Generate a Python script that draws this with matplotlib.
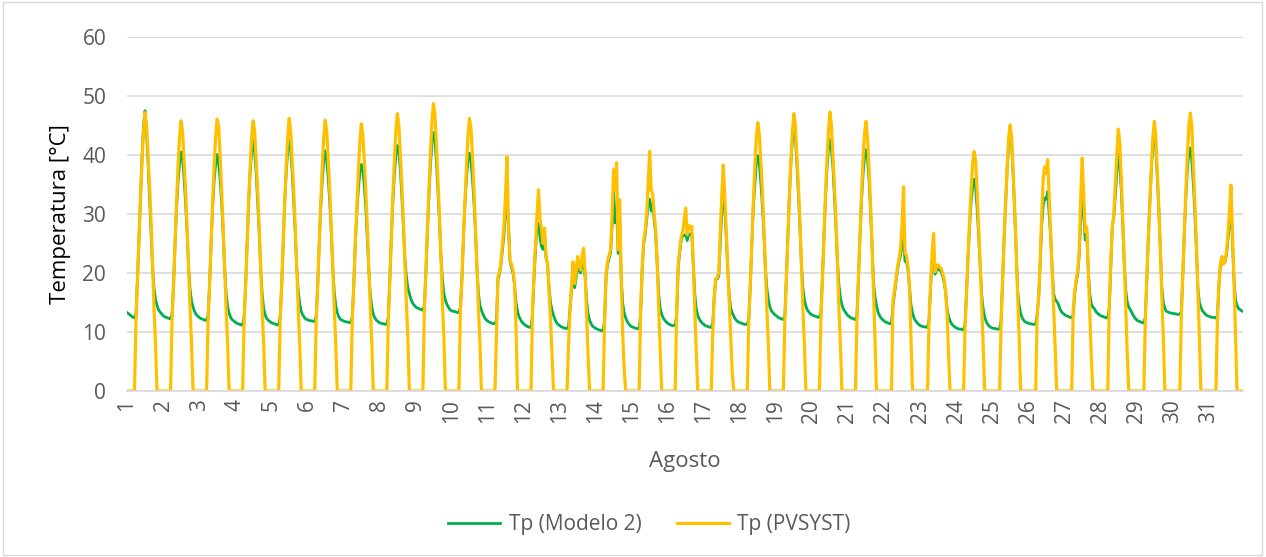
import numpy as np
import matplotlib.pyplot as plt
from matplotlib.patches import Rectangle

plt.rcParams['font.family'] = ['Open Sans', 'DejaVu Sans']

# hourly values, one row per day of August (hour 0..23)
tp_pvsyst = [
    [0,0,0,0,0,0,12,19,26,33,39,44,47.2,45,40,35,29,22,14,8,0,0,0,0],
    [0,0,0,0,0,0,12,18,25,32,38,43,45.8,44,39,34,28,21,14,8,0,0,0,0],
    [0,0,0,0,0,0,12,18,25,32,38,43,46.1,45,40,34,28,21,14,8,0,0,0,0],
    [0,0,0,0,0,0,12,18,25,32,38,43,45.8,44,39,34,28,21,14,8,0,0,0,0],
    [0,0,0,0,0,0,12,18,25,32,38,43,46.2,44,39,34,28,21,14,8,0,0,0,0],
    [0,0,0,0,0,0,12,18,25,32,38,43,45.9,44,39,34,28,21,14,8,0,0,0,0],
    [0,0,0,0,0,0,12,18,25,31,37,42,45.3,43.5,39,34,28,21,14,8,0,0,0,0],
    [0,0,0,0,0,0,12,19,26,33,39,44,47,45,40,35,29,22,15,9,0,0,0,0],
    [0,0,0,0,0,0,14,20,27,34,40,45.5,48.7,47,42,36,30,23,15,9,0,0,0,0],
    [0,0,0,0,0,0,14,19,26,32,38,43,46.2,44.5,40,34,28,21,14,8,0,0,0,0],
    [0,0,0,0,0,0,10,19.5,20,22,25,28,33,39.7,28,22,21.5,20.5,18.5,11,0,0,0,0],
    [0,0,0,0,0,0,14,20,25,30,34.1,29,27.5,25,27.6,23,21.5,17,12,6,0,0,0,0],
    [0,0,0,0,0,0,8,14,18,21.9,18.2,20,22.8,21.5,20.5,23,24.2,20,13,6,0,0,0,0],
    [0,0,0,0,0,0,12,20,22,23,24,30,37.5,34,38.7,24,32.4,19.4,10,4,0,0,0,0],
    [0,0,0,0,0,0,14,21,25.5,27,30,35,40.6,34,33.4,30,27.3,22,14,7,0,0,0,0],
    [0,0,0,0,0,0,14,21.6,24,26.1,27,29,31,26.5,28.1,27.5,27.9,22,14,7,0,0,0,0],
    [0,0,0,0,0,0,10,16,19,19.3,20,27,33,38.3,33,27,21,15,9,3,0,0,0,0],
    [0,0,0,0,0,0,12,18,25,32,38,43,45.5,43.5,39,34,28,21,14,8,0,0,0,0],
    [0,0,0,0,0,0,12,19,26,33,39,44,47,45,40,35,29,22,14,8,0,0,0,0],
    [0,0,0,0,0,0,12,19,26,33,39,44,47.3,45,40,35,29,22,14,8,0,0,0,0],
    [0,0,0,0,0,0,12,19,26,33,39,43.5,45.7,43,38,32,25,17,9,0,0,0,0,0],
    [0,0,0,0,0,0,15.4,17,19,21,22.5,24,28,34.6,23.3,23,21,17.7,9,0,0,0,0,0],
    [0,0,0,0,0,0,12,18,23,26.7,20.2,21,21.4,21,20.8,20,19,17.1,13,6,0,0,0,0],
    [0,0,0,0,0,0,11,17,23,29,34,38.5,40.6,39,34,28,22,15,8,0,0,0,0,0],
    [0,0,0,0,0,0,12,19,26,32,38,43,45.1,43,37,31,24,16,9,0,0,0,0,0],
    [0,0,0,0,0,0,13,16,22,30,36,38,36.9,39.2,33,27,21,14,7,0,0,0,0,0],
    [0,0,0,0,0,0,14,17,19,20.5,24,33,39.5,33,27,27.8,20.5,13,6,0,0,0,0,0],
    [0,0,0,0,0,0,15,22,27.6,30,35,40,44.4,42,36,29,22,14,6,0,0,0,0,0],
    [0,0,0,0,0,0,12,19,26,32,38,43,45.7,43,37,31,24,16,9,0,0,0,0,0],
    [0,0,0,0,0,0,13,20,27,34,40,45,47.1,44.7,38,32,25,17,9,0,0,0,0,0],
    [0,0,0,0,0,0,12,18,21.6,22.8,21.5,22,23.5,26.5,30.5,34.9,27,19,10,0,0,0,0,0],
]

tp_modelo2 = [
    [13.3,13.1,12.9,12.7,12.5,12.4,13,19,26,33,39.5,45,47.5,44,39,33,27,21,17.5,15.5,14.5,13.8,13.4,13.1],
    [12.8,12.6,12.5,12.4,12.3,12.2,13,18,25,31,35.5,38.5,40.5,39.5,36,32,27,21,17.2,15.2,14.2,13.5,13,12.7],
    [12.5,12.3,12.2,12.1,12,12,12.8,18,25,31,35.5,38.5,40.1,38.5,36,32,27,21,16.5,14.3,13.2,12.5,12.1,11.9],
    [11.7,11.5,11.4,11.3,11.2,11.2,12.5,18,25,32,37,40.5,42.4,40.5,37,32,27,21,16.5,14,12.9,12.3,12,11.8],
    [11.6,11.5,11.4,11.3,11.2,11.2,12.5,18,25,32,37,40.5,42.4,41,37,32,27,21,17,14.8,13.5,12.9,12.5,12.2],
    [12.1,12,11.9,11.9,11.8,11.8,12.8,18,25,31,35.5,39,40.7,39,36,32,27,21,16.8,14.5,13.3,12.6,12.2,12],
    [11.9,11.8,11.7,11.7,11.6,11.6,12.6,18,25,30,34,37,38.4,37.5,35,31,26,20.5,16.5,14.2,13,12.4,12,11.8],
    [11.6,11.5,11.4,11.4,11.3,11.3,12.5,19,26,32,36.5,40,41.6,40.5,37.5,33,28,22.5,19.5,17.5,16.5,15.6,15,14.6],
    [14.3,14.1,14,13.9,13.8,13.7,14.5,20,27,33,38,42,43.8,42.5,39,34,29,23,19,16.5,15.4,14.7,14.2,13.8],
    [13.6,13.5,13.5,13.4,13.3,13.3,14.2,19,26,31.5,36,39,40.3,39,36,32,27,21,16.5,14.5,13.7,13,12.5,12.1],
    [11.9,11.7,11.6,11.5,11.4,11.4,12,19,19.8,21.5,24,26.5,30,33,28,22,21,20,18,15,13.5,12.6,12.1,11.7],
    [11.4,11.2,11,10.9,10.8,10.8,13,19,24,28,28.4,26,24.5,24,26.5,22.5,21.5,17.5,15,13.7,12.8,12.1,11.6,11.3],
    [11.1,10.9,10.8,10.7,10.6,10.6,11,14,17.5,18.2,17.5,19,21,20.5,20,21.5,22,19.5,15.5,13,12,11.4,11,10.8],
    [10.6,10.5,10.4,10.3,10.2,10.2,12,19.5,21.5,22.5,23.5,28,34,28.5,31,23.3,30,19.5,15,13.3,12.4,11.8,11.4,11.1],
    [10.9,10.8,10.7,10.6,10.6,10.6,13,20.5,25,26.5,29,32,32.5,30.5,31.8,29,26.5,21.5,16.5,14,13,12.4,12,11.7],
    [11.5,11.3,11.2,11.1,11.1,11.1,13,21,23.5,25.5,26.4,26.4,26.5,25.5,26.6,26.5,26.8,21.5,16.5,14,12.8,12.2,11.8,11.5],
    [11.3,11.1,11,10.9,10.8,10.8,11.5,16,19,19,19.5,25,30,34.6,31,26,20.5,16,14,13.2,12.7,12.2,11.9,11.7],
    [11.6,11.5,11.4,11.3,11.3,11.3,12.2,18,25,31,35,38.5,39.9,38.5,35.5,31.5,27,21,17.5,15.5,14.3,13.6,13.3,13],
    [12.8,12.6,12.4,12.3,12.2,12.1,12.8,19,26,33,38.5,42.5,44.3,43,38.5,33.5,28,21.5,17.5,15.5,14.4,13.7,13.4,13.1],
    [12.9,12.8,12.7,12.6,12.5,12.5,13.2,19,26,32.5,37.5,41,42.6,41,38,33,28,22,18,15.8,14.6,13.9,13.5,13.1],
    [12.8,12.6,12.4,12.3,12.2,12.1,12.8,19,26,32,36.5,39.5,40.9,39.5,36,31,25,18.5,16,14.5,13.4,12.8,12.4,12.1],
    [11.9,11.7,11.6,11.5,11.4,11.4,14.5,16.5,18.5,20.5,22,23,24.5,25.6,22,22,20.5,17.5,14.5,13.2,12.4,11.9,11.6,11.3],
    [11.1,11,10.9,10.9,10.8,10.8,12,17.5,22,22.4,19.8,20.5,20.7,20.5,20.3,19.5,18.5,16.8,14,12.6,11.9,11.4,11.1,10.9],
    [10.7,10.6,10.5,10.5,10.4,10.4,11.5,17,23,28,32,34.5,35.9,34.5,31,26.5,21.5,16.5,14,12.6,11.8,11.3,11,10.8],
    [10.7,10.6,10.6,10.5,10.5,10.5,12,19,26,32,37.5,42,43.7,42,36.5,30.5,24,17,14.5,13.2,12.4,12,11.7,11.6],
    [11.5,11.4,11.4,11.3,11.3,11.3,13,16,21.5,28,31.5,32.7,32.5,33.8,30,26,20.5,16.5,15.5,15.2,14.8,14,13.5,13.2],
    [13,12.8,12.7,12.6,12.5,12.4,13,16.5,18.5,20,23,29,32.9,30,25.6,27,20.5,16.5,14.8,14.2,14,13.5,13.2,13],
    [12.8,12.7,12.6,12.5,12.4,12.4,14,21,28,29.5,33,37,40.1,38.5,34,28,21.5,17,15,14.2,13.8,13.3,12.8,12.4],
    [12.1,11.9,11.8,11.7,11.6,11.5,12.5,19,26,32,37.5,41.5,43,41,36,30.5,24,17.5,15,14,13.5,13.4,13.3,13.2],
    [13.2,13.1,13.1,13,13,13,13.5,20,27,33,37.5,40.5,41.2,39,35,30,24,17.5,15,14.2,13.6,13.3,13,12.8],
    [12.7,12.6,12.5,12.5,12.4,12.4,12.8,18,21.5,21.5,21.6,21.8,23,25.5,28.5,31.2,25.5,19,15.5,14.5,14,13.8,13.6,13.5],
]

days = [str(d) for d in range(1, 32)]

y_pv = np.concatenate(tp_pvsyst)
y_m2 = np.concatenate(tp_modelo2)
x = np.arange(len(y_pv))

fig = plt.figure(figsize=(12.66, 5.57), dpi=100)
ax = fig.add_axes([0.1003, 0.298, 0.8815, 0.6356])

grey = '#595959'
ax.set_axisbelow(True)
ax.yaxis.grid(True, color='#d9d9d9', lw=1.2)
ax.plot(x, y_m2, color='#00B050', lw=2.0, label='Tp (Modelo 2)')
ax.plot(x, y_pv, color='#FFC000', lw=2.3, label='Tp (PVSYST)')

ax.set_xlim(0, len(x) - 1)
ax.set_ylim(0, 60)
ax.set_yticks(range(0, 61, 10))
ax.set_xticks(np.arange(0, len(x), 24))
ax.set_xticklabels(days, rotation=90)

for s in ['top', 'right', 'left']:
    ax.spines[s].set_visible(False)
ax.spines['bottom'].set_color('#d9d9d9')
ax.spines['bottom'].set_linewidth(1.2)
ax.tick_params(axis='both', length=0, colors=grey, labelsize=15)
ax.tick_params(axis='y', pad=15)
ax.tick_params(axis='x', pad=6)

ax.set_ylabel('Temperatura [°C]', fontsize=16, color='black', labelpad=8)
ax.set_xlabel('Agosto', fontsize=16, color=grey, labelpad=20)

fig.legend(loc='center', bbox_to_anchor=(0.513, 0.058), ncol=2, frameon=False,
           fontsize=15, handlelength=2.5, handletextpad=0.4, columnspacing=1.7,
           labelcolor=grey)

fig.patches.append(Rectangle((0.002, 0.004), 0.995, 0.992, transform=fig.transFigure,
                             fill=False, edgecolor='#d9d9d9', lw=1))

fig.savefig('out.png', dpi=100)
